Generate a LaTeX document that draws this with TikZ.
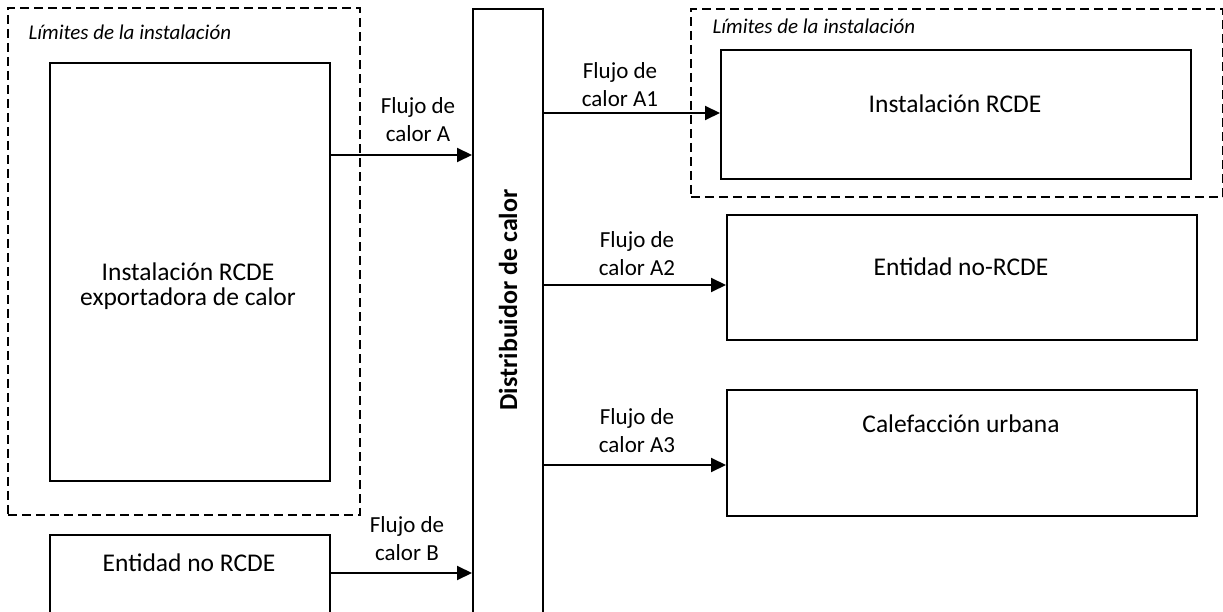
\documentclass[tikz,border=0pt]{standalone}
\usepackage{fontspec}
\setmainfont{Carlito}
\usetikzlibrary{arrows.meta,positioning}
\tikzset{
  box/.style={draw,line width=2pt,anchor=north west,inner sep=0pt},
  limit/.style={draw,dash pattern=on 9pt off 5pt,line width=1.8pt,anchor=north west,inner sep=0pt},
  flow/.style={-{Triangle[length=15pt,width=14pt]},line width=2pt},
  boxtext/.style={font=\fontsize{25.5}{25}\selectfont,align=center},
  flowtext/.style={font=\fontsize{23}{28}\selectfont,align=center},
  limittext/.style={font=\fontsize{21}{23}\selectfont\itshape,anchor=west},
}

\begin{document}
\begin{tikzpicture}[x=1pt,y=1pt]
  \useasboundingbox (0,0) rectangle (1223,611);
  \clip (0,0) rectangle (1223,611);
  % exporting installation
  \node[limit,minimum width=352,minimum height=507] (limL) at (7,604) {};
  \node[limittext] (limL-t) at (25,579) {Límites de la instalación};
  \node[box,minimum width=280,minimum height=418] (rcde) at (49,549) {};
  \node[boxtext] (rcde-t) at (188,325) {Instalación RCDE\\exportadora de calor};
  % other entity
  \node[box,minimum width=280,minimum height=170] (noent) at (49,77) {};
  \node[boxtext] (noent-t) at (189,48) {Entidad no RCDE};
  % distributor
  \node[box,minimum width=70,minimum height=700] (dist) at (472,603) {};
  \node[boxtext,font=\fontsize{26}{28}\selectfont\bfseries,rotate=90] (dist-t) at (508,311) {Distribuidor de calor};
  % receiving side
  \node[limit,minimum width=532,minimum height=188] (limR) at (690,603) {};
  \node[limittext] (limR-t) at (709,585) {Límites de la instalación};
  \node[box,minimum width=470,minimum height=129] (inst) at (720,562) {};
  \node[boxtext] (inst-t) at (955,507) {Instalación RCDE};
  \node[box,minimum width=470,minimum height=125] (ent) at (726,397) {};
  \node[boxtext] (ent-t) at (961,344) {Entidad no-RCDE};
  \node[box,minimum width=470,minimum height=126] (cal) at (726,222) {};
  \node[boxtext] (cal-t) at (961,187) {Calefacción urbana};
  % flows
  \draw[flow] (rcde.east |- 0,456) -- (dist.west |- 0,456);
  \node[flowtext] (fA) at (418,491) {Flujo de\\calor A};
  \draw[flow] (noent.east |- 0,38) -- (dist.west |- 0,38);
  \node[flowtext] (fB) at (407,72) {Flujo de\\calor B};
  \draw[flow] (dist.east |- 0,498) -- (inst.west |- 0,498);
  \node[flowtext] (fA1) at (620,526) {Flujo de\\calor A1};
  \draw[flow] (dist.east |- 0,326) -- (ent.west |- 0,326);
  \node[flowtext] (fA2) at (637,357) {Flujo de\\calor A2};
  \draw[flow] (dist.east |- 0,146) -- (cal.west |- 0,146);
  \node[flowtext] (fA3) at (637,180) {Flujo de\\calor A3};
\end{tikzpicture}
\end{document}
